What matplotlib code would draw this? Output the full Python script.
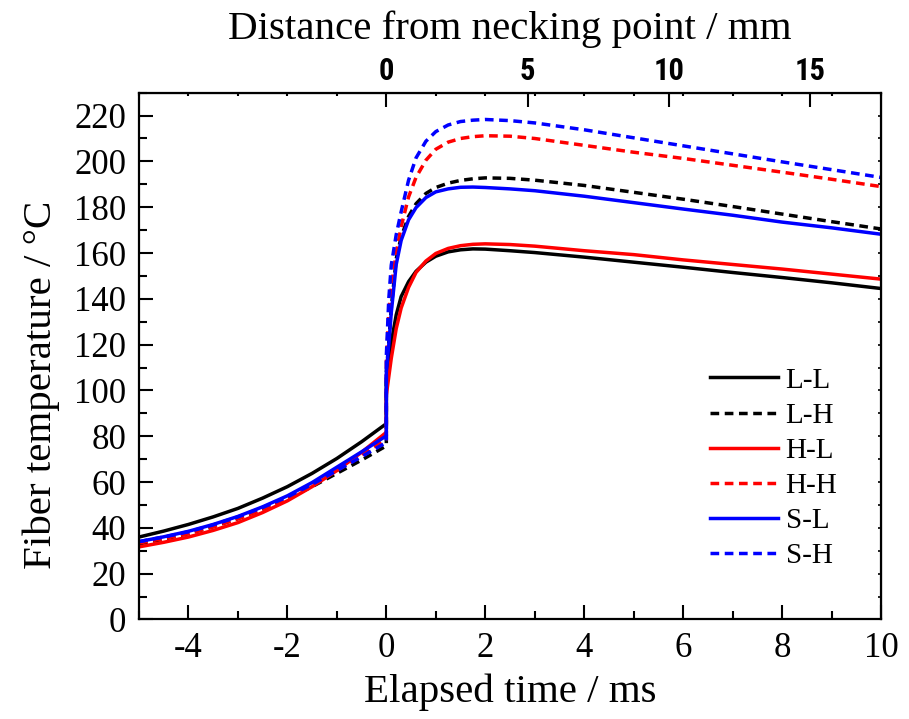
import matplotlib
matplotlib.use("Agg")
import matplotlib.pyplot as plt
from matplotlib.ticker import MultipleLocator, FixedLocator, NullFormatter

plt.rcParams["font.family"] = ["Liberation Serif", "DejaVu Serif"]
plt.rcParams["axes.unicode_minus"] = False

# elapsed time (ms); the repeated 0 gives the jump at the necking point
t_ms = [-5, -4.5, -4, -3.5, -3, -2.5, -2, -1.5, -1, -0.5, 0,
        0, 0.05, 0.1, 0.2, 0.3, 0.45, 0.6, 0.8, 1.0,
        1.25, 1.5, 1.75, 2, 2.5, 3, 4, 5, 6, 7, 8, 9, 10]

temp_LL = [36.0, 38.6, 41.5, 44.8, 48.5, 53.0, 58.0, 63.8, 70.3, 77.6, 85.5,
           103, 112, 121, 133, 141, 147.5, 152, 156, 158.6,
           160.5, 161.4, 161.8, 161.7, 161.0, 160.2, 158.2, 156.0, 153.8,
           151.5, 149.3, 147.0, 144.5]
temp_LH = [33.0, 35.1, 37.5, 40.5, 44.0, 48.1, 52.8, 58.0, 63.8, 69.6, 75.8,
           108, 121, 136, 157.5, 167, 176, 181.5, 186, 188.6,
           190.5, 191.7, 192.4, 192.8, 192.6, 191.8, 189.5, 186.5, 183.5,
           180.3, 177.0, 173.7, 170.5]
temp_HL = [31.7, 33.7, 36.0, 38.9, 42.3, 46.7, 51.8, 58.0, 65.0, 73.0, 81.7,
           98, 106, 114, 127, 136, 145, 151.5, 156.5, 159.8,
           162, 163.2, 163.8, 164, 163.7, 163.0, 161.0, 159.3, 157.0,
           155.0, 153.0, 150.8, 148.6]
temp_HH = [33.4, 35.3, 37.5, 40.5, 44.0, 48.2, 53.0, 58.7, 65.0, 71.7, 78.7,
           112, 134, 145, 160, 171.5, 184.5, 193, 200.5, 205.3,
           208.4, 210, 210.8, 211.2, 211.0, 210.0, 207.0, 204.0, 201.3,
           198.3, 195.3, 192.2, 189.0]
temp_SL = [34.0, 36.1, 38.5, 41.5, 45.0, 49.2, 54.0, 59.8, 66.5, 73.2, 80.2,
           108, 120, 134, 155, 165.5, 174.5, 179.8, 184.2, 186.7,
           188, 188.7, 188.8, 188.6, 188.0, 187.2, 184.8, 182.0, 179.2,
           176.5, 173.5, 171.0, 168.2]
temp_SH = [34.0, 36.0, 38.3, 41.3, 44.8, 48.9, 53.5, 59.0, 65.0, 71.1, 77.3,
           115, 140, 154.7, 168, 178, 191.8, 201.5, 208.8, 213,
           215.9, 217.4, 218, 218.3, 217.8, 216.8, 213.8, 210.3, 206.8,
           203.3, 199.8, 196.4, 193.0]

labels = ["L-L", "L-H", "H-L", "H-H", "S-L", "S-H"]
series = [temp_LL, temp_LH, temp_HL, temp_HH, temp_SL, temp_SH]
colors = ["black", "black", "red", "red", "blue", "blue"]
styles = ["-", "--", "-", "--", "-", "--"]

# fiber speed used for the distance axis (mm per ms)
speed = 1.75
dist_ticks = [0, 5, 10, 15]

fig = plt.figure(figsize=(9.09, 7.19), dpi=100)
ax = fig.add_axes([0.1529, 0.1384, 0.8163, 0.7327])

for y, lab, c, ls in zip(series, labels, colors, styles):
    kw = dict(dashes=(2.5, 1.6)) if ls == "--" else {}
    ax.plot(t_ms, y, color=c, lw=2.5, label=lab, **kw)

ax.set_xlim(-5, 10)
ax.set_ylim(0, 230)
ax.xaxis.set_major_locator(MultipleLocator(2))
ax.xaxis.set_minor_locator(MultipleLocator(1))
ax.yaxis.set_major_locator(MultipleLocator(20))
ax.yaxis.set_minor_locator(MultipleLocator(10))
ax.tick_params(which="both", direction="in", top=False, right=False,
               width=1.5, labelsize=25, pad=9)
ax.tick_params(which="major", length=10)
ax.tick_params(which="minor", length=5.5)
for s in ax.spines.values():
    s.set_linewidth(1.6)

ax.set_xlabel("Elapsed time / ms", fontsize=29.5, labelpad=6)
ax.set_ylabel("Fiber temperature / \u00b0C", fontsize=29.5, labelpad=10)
ax.yaxis.label.set_y(0.445)

# distance axis on top
top = ax.secondary_xaxis("top", functions=(lambda x: x * speed,
                                           lambda d: d / speed))
top.xaxis.set_major_locator(FixedLocator(dist_ticks))
top.xaxis.set_minor_locator(FixedLocator([speed * k for k in range(-5, 11)]))
top.tick_params(which="both", direction="in", width=1.5, pad=5)
top.tick_params(which="major", length=10)
top.tick_params(which="minor", length=2.5)
for lbl in top.get_xticklabels():
    lbl.set_family(["Liberation Sans Narrow", "Roboto Condensed",
                    "Liberation Sans"])
    lbl.set_fontweight("bold")
    lbl.set_fontsize(22)
top.set_xlabel("Distance from necking point / mm", fontsize=29.5, labelpad=12)

# short ticks on the right edge
right = ax.secondary_yaxis("right")
right.yaxis.set_major_locator(MultipleLocator(10))
right.yaxis.set_major_formatter(NullFormatter())
right.tick_params(direction="in", length=2.5, width=1.2)

ax.legend(loc="center left", bbox_to_anchor=(0.77, 0.287), frameon=False,
          fontsize=21, handlelength=2.33, handletextpad=0.25,
          labelspacing=0.3, borderpad=0, borderaxespad=0)

fig.savefig("out.png", dpi=100)
